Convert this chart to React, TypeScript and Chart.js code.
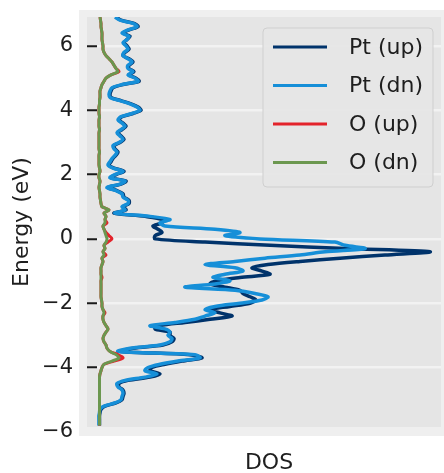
import React, { useEffect, useRef } from "react";
import { Chart, registerables } from "chart.js";
Chart.register(...registerables);

// Energy grid (eV), top to bottom
const energy = [
  6.9, 6.8, 6.7, 6.6, 6.5, 6.4, 6.3, 6.2, 6.1, 6.0,
  5.9, 5.8, 5.7, 5.6, 5.5, 5.4, 5.3, 5.2, 5.1, 5.0,
  4.9, 4.8, 4.7, 4.6, 4.5, 4.4, 4.3, 4.2, 4.1, 4.0,
  3.9, 3.8, 3.7, 3.6, 3.5, 3.4, 3.3, 3.2, 3.1, 3.0,
  2.9, 2.8, 2.7, 2.6, 2.5, 2.4, 2.3, 2.2, 2.1, 2.0,
  1.9, 1.8, 1.7, 1.6, 1.5, 1.4, 1.3, 1.2, 1.1, 1.0,
  0.9, 0.8, 0.7, 0.6, 0.5, 0.4, 0.3, 0.2, 0.1, 0.0,
  -0.1, -0.2, -0.3, -0.4, -0.5, -0.6, -0.7, -0.8, -0.9, -1.0,
  -1.1, -1.2, -1.3, -1.4, -1.5, -1.6, -1.7, -1.8, -1.9, -2.0,
  -2.1, -2.2, -2.3, -2.4, -2.5, -2.6, -2.7, -2.8, -2.9, -3.0,
  -3.1, -3.2, -3.3, -3.4, -3.5, -3.6, -3.7, -3.8, -3.9, -4.0,
  -4.1, -4.2, -4.3, -4.4, -4.5, -4.6, -4.7, -4.8, -4.9, -5.0,
  -5.1, -5.2, -5.3, -5.4, -5.5, -5.6, -5.7, -5.8,
];

const ptUp = [
  0.19, 0.24, 0.37, 0.41, 0.32, 0.26, 0.33, 0.30, 0.27, 0.30,
  0.32, 0.28, 0.26, 0.32, 0.36, 0.32, 0.32, 0.37, 0.32, 0.39,
  0.42, 0.26, 0.16, 0.14, 0.13, 0.14, 0.24, 0.34, 0.41, 0.44,
  0.36, 0.25, 0.22, 0.26, 0.29, 0.25, 0.21, 0.24, 0.27, 0.23,
  0.17, 0.18, 0.21, 0.19, 0.16, 0.14, 0.12, 0.17, 0.27, 0.19,
  0.14, 0.29, 0.24, 0.11, 0.20, 0.26, 0.27, 0.32, 0.32, 0.26,
  0.29, 0.17, 0.48, 0.66, 0.65, 0.56, 0.61, 0.65, 0.58, 0.58,
  1.08, 1.73, 2.48, 3.33, 2.88, 2.43, 2.03, 1.71, 1.55, 1.65,
  1.73, 1.43, 1.20, 1.13, 1.28, 1.43, 1.46, 1.53, 1.59, 1.53,
  1.33, 1.13, 1.23, 1.35, 1.13, 0.88, 0.63, 0.58, 0.73, 0.73,
  0.77, 0.75, 0.66, 0.36, 0.24, 0.93, 1.05, 0.85, 0.68, 0.55,
  0.53, 0.63, 0.53, 0.31, 0.22, 0.22, 0.26, 0.27, 0.26, 0.25,
  0.19, 0.08, 0.04, 0.03, 0.025, 0.025, 0.025, 0.025,
];

const ptDn = [
  0.18, 0.23, 0.36, 0.40, 0.31, 0.25, 0.32, 0.30, 0.26, 0.29,
  0.31, 0.27, 0.26, 0.31, 0.35, 0.31, 0.31, 0.36, 0.31, 0.38,
  0.41, 0.25, 0.15, 0.13, 0.12, 0.13, 0.23, 0.33, 0.40, 0.43,
  0.35, 0.24, 0.21, 0.25, 0.28, 0.24, 0.20, 0.23, 0.26, 0.22,
  0.16, 0.17, 0.20, 0.18, 0.15, 0.13, 0.11, 0.16, 0.26, 0.18,
  0.13, 0.28, 0.23, 0.10, 0.19, 0.25, 0.26, 0.31, 0.31, 0.25,
  0.28, 0.18, 0.53, 0.73, 0.63, 0.68, 1.18, 1.43, 1.28, 1.63,
  2.38, 2.48, 2.68, 2.28, 2.03, 1.68, 1.38, 1.08, 1.38, 1.46,
  1.28, 1.16, 1.33, 1.18, 0.88, 1.38, 1.58, 1.71, 1.65, 1.43,
  1.18, 1.08, 1.18, 1.08, 0.98, 0.78, 0.53, 0.68, 0.73, 0.71,
  0.75, 0.73, 0.63, 0.33, 0.21, 0.98, 1.03, 0.81, 0.63, 0.51,
  0.48, 0.60, 0.48, 0.28, 0.20, 0.21, 0.25, 0.26, 0.25, 0.24,
  0.18, 0.07, 0.03, 0.025, 0.02, 0.02, 0.02, 0.02,
];

const oUp = [
  0.03, 0.035, 0.04, 0.04, 0.045, 0.05, 0.05, 0.05, 0.055, 0.06,
  0.06, 0.07, 0.09, 0.12, 0.15, 0.17, 0.19, 0.22, 0.14, 0.09,
  0.07, 0.05, 0.04, 0.03, 0.03, 0.03, 0.025, 0.025, 0.02, 0.02,
  0.02, 0.025, 0.02, 0.02, 0.02, 0.025, 0.02, 0.02, 0.02, 0.02,
  0.02, 0.02, 0.025, 0.02, 0.02, 0.02, 0.02, 0.025, 0.03, 0.02,
  0.02, 0.03, 0.025, 0.02, 0.025, 0.03, 0.03, 0.035, 0.04, 0.05,
  0.12, 0.07, 0.09, 0.08, 0.10, 0.06, 0.07, 0.09, 0.12, 0.15,
  0.11, 0.07, 0.08, 0.06, 0.09, 0.05, 0.06, 0.05, 0.04, 0.04,
  0.04, 0.05, 0.04, 0.04, 0.04, 0.04, 0.04, 0.04, 0.045, 0.05,
  0.05, 0.06, 0.08, 0.06, 0.06, 0.07, 0.09, 0.11, 0.09, 0.07,
  0.06, 0.07, 0.09, 0.10, 0.13, 0.21, 0.26, 0.17, 0.07, 0.05,
  0.04, 0.03, 0.025, 0.025, 0.025, 0.025, 0.025, 0.025, 0.025, 0.025,
  0.025, 0.025, 0.025, 0.025, 0.025, 0.025, 0.025, 0.025,
];

const oDn = [
  0.03, 0.035, 0.04, 0.04, 0.045, 0.05, 0.05, 0.05, 0.055, 0.06,
  0.06, 0.07, 0.09, 0.12, 0.15, 0.17, 0.19, 0.21, 0.14, 0.09,
  0.07, 0.05, 0.04, 0.03, 0.03, 0.03, 0.025, 0.025, 0.02, 0.02,
  0.02, 0.025, 0.02, 0.02, 0.02, 0.025, 0.02, 0.02, 0.02, 0.02,
  0.02, 0.02, 0.025, 0.02, 0.02, 0.02, 0.02, 0.025, 0.03, 0.02,
  0.02, 0.03, 0.025, 0.02, 0.025, 0.03, 0.03, 0.035, 0.04, 0.05,
  0.12, 0.07, 0.09, 0.08, 0.08, 0.06, 0.07, 0.08, 0.09, 0.10,
  0.09, 0.07, 0.08, 0.06, 0.07, 0.05, 0.06, 0.05, 0.04, 0.04,
  0.04, 0.04, 0.04, 0.04, 0.04, 0.04, 0.04, 0.04, 0.045, 0.05,
  0.05, 0.06, 0.07, 0.06, 0.06, 0.07, 0.09, 0.11, 0.09, 0.07,
  0.06, 0.07, 0.09, 0.10, 0.13, 0.19, 0.22, 0.15, 0.07, 0.05,
  0.04, 0.03, 0.025, 0.025, 0.025, 0.025, 0.025, 0.025, 0.025, 0.025,
  0.025, 0.025, 0.025, 0.025, 0.025, 0.025, 0.025, 0.025,
];

const energyTicks = [-6, -4, -2, 0, 2, 4, 6];
const seriesLabels = ["Pt (up)", "Pt (dn)", "O (up)", "O (dn)"];

const FONT = "'DejaVu Sans', Lato, sans-serif";
const TEXT = "#1e1e1e";

const inRange = (c: any) => !c.tick || (c.tick.value >= c.scale.min && c.tick.value <= c.scale.max);

const backgroundPlugin = {
  id: "bgFrame",
  beforeDraw(chart: any) {
    const { ctx, chartArea: a, width } = chart;
    ctx.save();
    ctx.fillStyle = "#efefef";
    ctx.fillRect(a.left - 18, a.top - 7, width - (a.left - 18), a.bottom - a.top + 16);
    ctx.fillStyle = "#e5e5e5";
    ctx.fillRect(a.left - 10, a.top, a.right - a.left + 10, a.bottom - a.top);
    ctx.restore();
  },
};

const legendPlugin = {
  id: "boxLegend",
  afterDraw(chart: any) {
    const { ctx, chartArea: a } = chart;
    const w = 170;
    const h = 159;
    const x = a.right - 8 - w;
    const y = a.top + 11;
    ctx.save();
    ctx.beginPath();
    const r = 4;
    ctx.moveTo(x + r, y);
    ctx.arcTo(x + w, y, x + w, y + h, r);
    ctx.arcTo(x + w, y + h, x, y + h, r);
    ctx.arcTo(x, y + h, x, y, r);
    ctx.arcTo(x, y, x + w, y, r);
    ctx.closePath();
    ctx.fillStyle = "rgba(229,229,229,0.9)";
    ctx.fill();
    ctx.strokeStyle = "#cfcfcf";
    ctx.lineWidth = 1;
    ctx.stroke();
    chart.data.datasets.forEach((ds: any, i: number) => {
      const cy = y + 19 + i * 38.5;
      ctx.beginPath();
      ctx.moveTo(x + 10, cy);
      ctx.lineTo(x + 64, cy);
      ctx.strokeStyle = ds.borderColor;
      ctx.lineWidth = 3;
      ctx.stroke();
      ctx.fillStyle = TEXT;
      ctx.font = `22px ${FONT}`;
      ctx.textBaseline = "middle";
      ctx.textAlign = "left";
      ctx.fillText(ds.label, x + 86, cy + 1);
    });
    ctx.restore();
  },
};

export default function App() {
  const ref = useRef<HTMLCanvasElement | null>(null);
  useEffect(() => {
    if (!ref.current) return;
    const mk = (vals: number[]) => energy.map((e, i) => ({ x: vals[i], y: e }));
    const common = { pointRadius: 0, showLine: true, tension: 0.3, fill: false };
    const chart = new Chart(ref.current, {
      type: "scatter",
      data: {
        datasets: [
          { ...common, label: seriesLabels[0], data: mk(ptUp), borderColor: "#00336b", borderWidth: 3.5, order: 4 },
          { ...common, label: seriesLabels[1], data: mk(ptDn), borderColor: "#168fd8", borderWidth: 3.5, order: 3 },
          { ...common, label: seriesLabels[2], data: mk(oUp), borderColor: "#e3232b", borderWidth: 3, order: 2 },
          { ...common, label: seriesLabels[3], data: mk(oDn), borderColor: "#6b974f", borderWidth: 3, order: 1 },
        ],
      } as any,
      options: {
        responsive: false,
        animation: false,
        events: [],
        layout: { padding: { top: 17, right: 3, left: 0, bottom: 0 } },
        plugins: { legend: { display: false }, tooltip: { enabled: false } },
        scales: {
          x: {
            type: "linear",
            min: 0,
            max: 3.44,
            grid: { display: false },
            border: { display: false },
            ticks: { display: false },
            title: {
              display: true,
              text: "DOS",
              color: TEXT,
              font: { family: FONT, size: 22, lineHeight: 1 },
              padding: { top: 0, bottom: -1 },
            },
            afterFit: (s: any) => {
              s.height = 46;
              s.paddingLeft = 0;
              s.paddingRight = 0;
            },
          },
          y: {
            type: "linear",
            min: -5.85,
            max: 6.9,
            afterBuildTicks: (s: any) => {
              s.ticks = energyTicks.map((v) => ({ value: v }));
            },
            afterFit: (s: any) => {
              s.width = 97;
              s.paddingTop = 0;
              s.paddingBottom = 0;
            },
            grid: {
              color: (c: any) => (inRange(c) ? "#f2f2f2" : "rgba(0,0,0,0)"),
              lineWidth: 2.5,
              tickColor: (c: any) => (inRange(c) ? "#1a1a1a" : "rgba(0,0,0,0)"),
              tickLength: 10,
              tickWidth: 2,
            },
            border: { display: false },
            ticks: {
              color: TEXT,
              padding: 14,
              font: { family: FONT, size: 21 },
              autoSkip: false,
              callback: (v: any) => (v < 0 ? "\u2212" + Math.abs(v) : String(v)),
            },
            title: {
              display: true,
              text: "Energy (eV)",
              color: TEXT,
              font: { family: FONT, size: 22, lineHeight: 1 },
              padding: { top: 11, bottom: 0 },
            },
          },
        },
      } as any,
      plugins: [backgroundPlugin, legendPlugin],
    });
    return () => chart.destroy();
  }, []);
  return (
    <div style={{ position: "fixed", left: 0, top: 0, width: 444, height: 473 }}>
      <canvas ref={ref} width={444} height={473} style={{ display: "block" }} />
    </div>
  );
}
